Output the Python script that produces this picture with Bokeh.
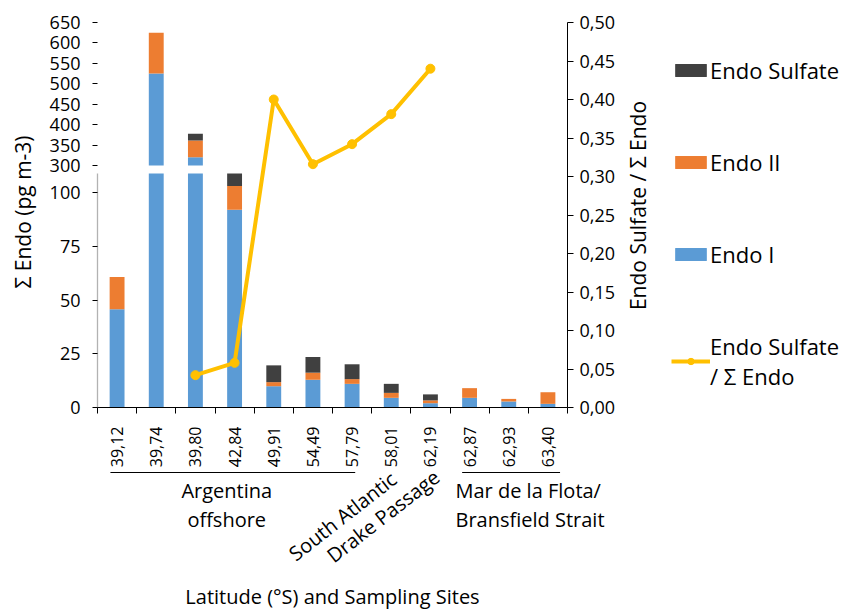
import math
from bokeh.plotting import figure
from bokeh.models import (Range1d, LinearAxis, FixedTicker, Legend, LegendItem,
                          PolyAnnotation, ColumnDataSource)
from bokeh.core.properties import value
from bokeh.embed import file_html
from bokeh.resources import INLINE

# ---------------- data ----------------
latitudes = ["39,12", "39,74", "39,80", "42,84", "49,91", "54,49",
             "57,79", "58,01", "62,19", "62,87", "62,93", "63,40"]
endo_I = [45.7, 525.0, 320.0, 92.0, 9.9, 12.9, 11.0, 4.5, 2.0, 4.5, 2.8, 1.7]
endo_II = [15.0, 100.0, 41.0, 11.0, 1.9, 3.3, 2.2, 2.3, 1.3, 4.5, 1.2, 5.4]
endo_sulfate = [0.0, 0.0, 17.0, 6.0, 7.8, 7.3, 6.9, 4.2, 2.8, 0.0, 0.0, 0.0]
NaN = float("nan")
sulfate_ratio = [NaN, NaN, 0.042, 0.058, 0.400, 0.316, 0.342, 0.381, 0.440, NaN, NaN, NaN]

left_lower_ticks = [0, 25, 50, 75, 100]
left_upper_ticks = [300, 350, 400, 450, 500, 550, 600, 650]
right_ticks = [0.00, 0.05, 0.10, 0.15, 0.20, 0.25, 0.30, 0.35, 0.40, 0.45, 0.50]
right_tick_labels = ["0,00", "0,05", "0,10", "0,15", "0,20", "0,25",
                     "0,30", "0,35", "0,40", "0,45", "0,50"]

group_labels = ["Argentina\noffshore", "South Atlantic", "Drake Passage",
                "Mar de la Flota/\nBransfield Strait"]
left_title = "Σ Endo (pg m-3)"
right_title = "Endo Sulfate / Σ Endo"
x_title = "Latitude (°S) and Sampling Sites"

# ---------------- geometry (pixels inside the canvas) ----------------
W, H = 847, 611
PLOT_LEFT, PLOT_RIGHT = 97, 567   # pixel columns of the two y axes
TOP_Y = 22                        # pixel row of 650 / 0,50
ZERO_Y = 407                      # pixel row of value 0
K_LOW = 2.15                      # px per unit, lower (0-100) segment
BREAK_LOW = 108.8                 # top of the lower segment
BREAK_HIGH, TOP_VAL = 300.0, 650.0
Y_BREAK_HIGH = 165                # pixel row of 300 on the upper segment

FONT = "Open Sans"
BLUE, ORANGE, DARK, YELLOW = "#5B9BD5", "#ED7D31", "#404040", "#FFC000"

n = len(latitudes)
xc = [i + 0.5 for i in range(n)]
pxc = (PLOT_RIGHT - PLOT_LEFT) / n
k_up = (Y_BREAK_HIGH - TOP_Y) / (TOP_VAL - BREAK_HIGH)
k_ratio = (ZERO_Y - TOP_Y) / 0.5

x_range = Range1d(-PLOT_LEFT / pxc, (W - PLOT_LEFT) / pxc)
lower_range = Range1d(-(H - ZERO_Y) / K_LOW, ZERO_Y / K_LOW)
upper_range = Range1d(BREAK_HIGH - (H - Y_BREAK_HIGH) / k_up, TOP_VAL + TOP_Y / k_up)
ratio_range = Range1d(-(H - ZERO_Y) / k_ratio, 0.5 + TOP_Y / k_ratio)
px_range = Range1d(H, 0)          # helper scale: canvas pixel rows


def px_to_x(px):
    return (px - PLOT_LEFT) / pxc


def upper_to_lower(u):
    y = Y_BREAK_HIGH - (u - BREAK_HIGH) * k_up
    return (ZERO_Y - y) / K_LOW


def js_key(t):
    t = float(t)
    return str(int(t)) if t.is_integer() else repr(t)


def overrides(ticks, labels):
    d = {}
    for t, l in zip(ticks, labels):
        d[float(t)] = l
        d[js_key(t)] = l
    return d


# stacked cumulative values, split at the axis break
series = [("Endo I", endo_I, BLUE), ("Endo II", endo_II, ORANGE),
          ("Endo Sulfate", endo_sulfate, DARK)]
cum_prev = [0.0] * n
lower_data, upper_data = {}, {}
for name, vals, col in series:
    cum = [a + b for a, b in zip(cum_prev, vals)]
    lower_data[name] = dict(x=xc,
                            bottom=[min(a, BREAK_LOW) for a in cum_prev],
                            top=[min(a, BREAK_LOW) for a in cum])
    idx = [i for i in range(n) if cum[i] > BREAK_HIGH]
    upper_data[name] = dict(x=[xc[i] for i in idx],
                            bottom=[max(cum_prev[i], BREAK_HIGH) for i in idx],
                            top=[max(cum[i], BREAK_HIGH) for i in idx])
    cum_prev = cum

# ---------------- figure ----------------
p = figure(width=W, height=H, x_range=x_range, y_range=lower_range,
           x_axis_type=None, y_axis_type=None,
           output_backend="svg", toolbar_location=None,
           min_border_left=0, min_border_right=0,
           min_border_top=0, min_border_bottom=0)
p.extra_y_ranges = {"upper": upper_range, "ratio": ratio_range, "px": px_range}
p.outline_line_color = None

renderers = {}
for name, vals, col in series:
    r1 = p.vbar(x="x", bottom="bottom", top="top", width=0.38,
                source=ColumnDataSource(lower_data[name]),
                fill_color=col, line_color=None)
    r2 = p.vbar(x="x", bottom="bottom", top="top", width=0.38,
                source=ColumnDataSource(upper_data[name]), y_range_name="upper",
                fill_color=col, line_color=None)
    renderers[name] = [r1, r2]

line_r = p.line(xc, sulfate_ratio, y_range_name="ratio", line_color=YELLOW, line_width=4)
dot_r = p.scatter(xc, sulfate_ratio, y_range_name="ratio", size=9,
                  fill_color=YELLOW, line_color=YELLOW)


def style_axis(ax, size="18px"):
    ax.major_label_text_font = FONT
    ax.major_label_text_font_size = size
    ax.major_label_text_color = "black"
    ax.axis_line_color = "black"
    ax.major_tick_line_color = "black"


# x axis: labels at bar centres, ticks at category boundaries
xaxis = LinearAxis(ticker=FixedTicker(ticks=xc, minor_ticks=list(range(n + 1))),
                   major_label_overrides=overrides(xc, latitudes),
                   major_label_orientation=math.pi / 2,
                   bounds=(0, n), fixed_location=0)
style_axis(xaxis, "16px")
xaxis.major_tick_line_color = None
xaxis.major_tick_out = 0
xaxis.major_tick_in = 0
xaxis.minor_tick_line_color = "black"
xaxis.minor_tick_out = 6
xaxis.minor_tick_in = 0
xaxis.major_label_standoff = 13
p.add_layout(xaxis, "below")

# left broken axis (ticks + labels), line drawn in two pieces below
mapped_upper = [upper_to_lower(u) for u in left_upper_ticks]
left_ticks = [float(t) for t in left_lower_ticks] + mapped_upper
left_labels = [str(t) for t in left_lower_ticks] + [str(t) for t in left_upper_ticks]
yaxis = LinearAxis(ticker=FixedTicker(ticks=left_ticks, minor_ticks=[]),
                   major_label_overrides=overrides(left_ticks, left_labels),
                   fixed_location=0)
style_axis(yaxis)
yaxis.axis_line_color = None
yaxis.major_tick_out = 5
yaxis.major_tick_in = 0
yaxis.minor_tick_line_color = None
yaxis.major_label_standoff = 12
p.add_layout(yaxis, "left")

p.add_layout(PolyAnnotation(xs=[0, 0], ys=[0, BREAK_LOW],
                            line_color="black", line_width=1.3, fill_alpha=0))
p.add_layout(PolyAnnotation(xs=[0, 0], ys=[BREAK_HIGH, TOP_VAL], y_range_name="upper",
                            line_color="black", line_width=1.3, fill_alpha=0))

# right axis, pinned at the end of the categories
raxis = LinearAxis(y_range_name="ratio",
                   ticker=FixedTicker(ticks=right_ticks, minor_ticks=[]),
                   major_label_overrides=overrides(right_ticks, right_tick_labels),
                   bounds=(0, 0.5), fixed_location=n)
style_axis(raxis)
raxis.major_tick_out = 6
raxis.major_tick_in = 0
raxis.minor_tick_line_color = None
raxis.major_label_standoff = 6
p.add_layout(raxis, "right")

# axis titles
ttl = dict(text_font=value(FONT), text_font_size="21px", text_color="black",
           y_range_name="px", text_align="center", text_baseline="middle",
           angle=math.pi / 2)
p.text(x=[px_to_x(22.5)], y=[211.5], text=[left_title], **ttl)
p.text(x=[px_to_x(637)], y=[205], text=[right_title], **ttl)
p.text(x=[n / 2], y=[596], text=[x_title], text_font=value(FONT), text_font_size="20px",
       text_color="black", y_range_name="px", text_align="center",
       text_baseline="middle")

# ---------------- site groups below the axis ----------------
txt = dict(text_font=value(FONT), text_font_size="20px", text_color="black",
           text_line_height=1.1, y_range_name="px")
p.segment(x0=[0.33, 9.31], x1=[6.58, 11.81], y0=[472, 472], y1=[472, 472],
          y_range_name="px", line_color="black", line_width=1)
p.text(x=[3.3], y=[476], text=[group_labels[0]], text_align="center",
       text_baseline="top", **txt)
p.text(x=[7.35], y=[465], text=[group_labels[1]], text_align="right",
       text_baseline="top", angle=math.radians(38), **txt)
p.text(x=[8.45], y=[463], text=[group_labels[2]], text_align="right",
       text_baseline="top", angle=math.radians(38), **txt)
p.text(x=[9.14], y=[476], text=[group_labels[3]], text_align="left",
       text_baseline="top", **txt)

# ---------------- legend ----------------
legend = Legend(items=[
    LegendItem(label="Endo Sulfate", renderers=renderers["Endo Sulfate"]),
    LegendItem(label="Endo II", renderers=renderers["Endo II"]),
    LegendItem(label="Endo I", renderers=renderers["Endo I"]),
    LegendItem(label="Endo Sulfate\n/ Σ Endo", renderers=[line_r, dot_r]),
], location=(671, 220), glyph_width=39, glyph_height=16, label_standoff=0,
    spacing=62, padding=0, margin=0, border_line_color=None,
    background_fill_alpha=0, label_text_font=FONT, label_text_font_size="22px",
    label_text_line_height=1.6, label_text_color="black", label_height=30)
p.add_layout(legend)

open("out.html", "w").write(file_html(p, INLINE))
